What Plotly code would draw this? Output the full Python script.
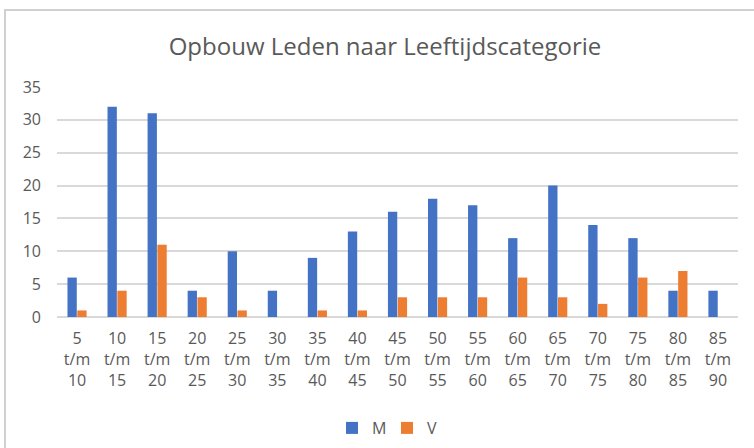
import plotly.graph_objects as go

categories = ["5<br>t/m<br>10", "10<br>t/m<br>15", "15<br>t/m<br>20", "20<br>t/m<br>25", "25<br>t/m<br>30",
              "30<br>t/m<br>35", "35<br>t/m<br>40", "40<br>t/m<br>45", "45<br>t/m<br>50", "50<br>t/m<br>55",
              "55<br>t/m<br>60", "60<br>t/m<br>65", "65<br>t/m<br>70", "70<br>t/m<br>75", "75<br>t/m<br>80",
              "80<br>t/m<br>85", "85<br>t/m<br>90"]
men = [6, 32, 31, 4, 10, 4, 9, 13, 16, 18, 17, 12, 20, 14, 12, 4, 4]
women = [1, 4, 11, 3, 1, 0, 1, 1, 3, 3, 3, 6, 3, 2, 6, 7, 0]
yticks = [0, 5, 10, 15, 20, 25, 30, 35]

FONT = "Open Sans"
GRAY = "#595959"

fig = go.Figure()
fig.add_bar(x=categories, y=men, name="M", marker=dict(color="#4472C4", line=dict(width=0)))
fig.add_bar(x=categories, y=women, name="V", marker=dict(color="#ED7D31", line=dict(width=0)))

W, H = 754, 448
L, T = 57, 87
R = W - 738
B = H - 317
pw, ph = W - L - R, H - T - B

fig.update_layout(
    width=W, height=H,
    margin=dict(l=L, r=R, t=T, b=B, autoexpand=False),
    paper_bgcolor="white", plot_bgcolor="white",
    barmode="group", bargap=0.51, bargroupgap=0.05,
    title=dict(text="Opbouw Leden naar Leeftijdscategorie", x=385 / W, xanchor="center",
               y=1 - 47 / H, yanchor="middle",
               font=dict(family=FONT, size=24, color=GRAY)),
    font=dict(family=FONT, color=GRAY, size=16),
    legend=dict(orientation="h", x=(387 - L) / pw, xanchor="center",
                y=-(428 - 317) / ph, yanchor="middle",
                font=dict(family=FONT, size=16, color=GRAY), itemwidth=30, entrywidth=10,
                traceorder="normal"),
    showlegend=True,
    xaxis=dict(showgrid=False, tickfont=dict(size=16, color=GRAY), ticks="", showline=False,
               automargin=False, ticklabelstandoff=10),
    yaxis=dict(range=[0, 35], tickvals=yticks, showgrid=True, gridcolor="#D9D9D9", gridwidth=1.5,
               zeroline=True, zerolinecolor="#D9D9D9", zerolinewidth=1.5, automargin=False,
               tickfont=dict(size=16, color=GRAY), ticks="", ticklabelstandoff=15),
    shapes=[dict(type="rect", xref="paper", yref="paper",
                 x0=(5 - L) / pw, x1=(W + 10 - L) / pw,
                 y0=-(H + 10 - T - ph) / ph, y1=1 + (T - 10) / ph,
                 line=dict(color="#D0D0D0", width=2), fillcolor="rgba(0,0,0,0)", layer="below")],
)

fig.write_html("out.html", config={"displayModeBar": False},
               post_script="document.body.style.margin='0';document.body.style.overflow='hidden';")
